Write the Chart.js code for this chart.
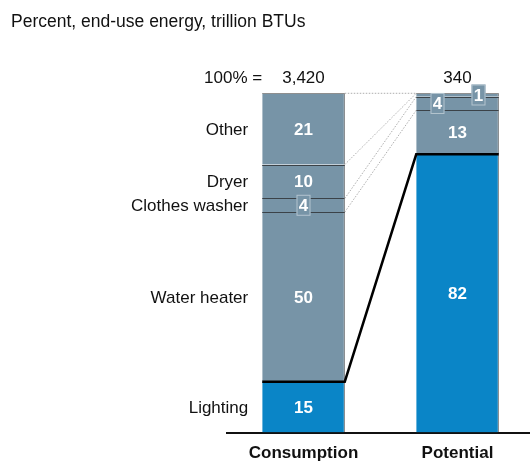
<!DOCTYPE html>
<html>
<head>
<meta charset="utf-8">
<script src="https://cdn.jsdelivr.net/npm/chart.js@4"></script>
<style>
    html, body { margin: 0; padding: 0; background: #fff; overflow: hidden; }
    #wrap { position: absolute; left: 0; top: 0; width: 536px; height: 478px; }
</style>
</head>
<body>
<div id="wrap"><canvas id="chart" width="536" height="478"></canvas></div>
<script>
const categories = ["Consumption", "Potential"];
const segments = ["Lighting", "Water heater", "Clothes washer", "Dryer", "Other"];
const lighting = [15, 82];
const waterHeater = [50, 13];
const clothesWasher = [4, 4];
const dryer = [10, 1];
const other = [21, 0];
const totals = ["3,420", "340"];

//set colors
let greyColor = "#7794a7";
let blueColor = "#0a85c7";
let lineColor = "#3b4248";
const font = "'Liberation Sans', Arial, Helvetica, sans-serif";

// small labels that get a box, shifted sideways (dataset index -> shift per bar, null = no box)
const boxShift = { 2: [0, -20], 3: [null, 21] };

function seg(label, values, color) {
    return {
        label: label,
        data: values,
        backgroundColor: color,
        borderColor: lineColor,
        borderWidth: { top: 0, right: 1, left: 0, bottom: 0 },
        borderSkipped: false
    };
}

const connectors = {
    id: "connectors",
    afterDatasetsDraw(chart) {
        const c = chart.ctx;
        const yScale = chart.scales.y;
        const metas = chart.data.datasets.map((d, i) => chart.getDatasetMeta(i));

        // crisp segment boundaries
        c.save();
        c.lineWidth = 1;
        metas.forEach((meta, i) => {
            if (i < 2) return;
            meta.data.forEach((el, j) => {
                if (!chart.data.datasets[i].data[j]) return;
                const y = Math.round(el.base) + 0.5;
                c.strokeStyle = lineColor;
                c.beginPath();
                c.moveTo(el.x - el.width / 2, y);
                c.lineTo(el.x + el.width / 2, y);
                c.stroke();
            });
        });
        // bar tops
        metas[0].data.forEach((el, j) => {
            const y = Math.round(yScale.getPixelForValue(100)) + 0.5;
            c.strokeStyle = "#8f8f8f";
            c.beginPath();
            c.moveTo(el.x - el.width / 2, y);
            c.lineTo(el.x + el.width / 2, y);
            c.stroke();
        });
        c.restore();

        // dotted lines between segment tops, heavy line for lighting
        metas.forEach((meta, i) => {
            const a = meta.data[0], b = meta.data[1];
            const ya = a.y, yb = b.y;
            c.save();
            if (i === 0) {
                c.strokeStyle = "#000";
                c.lineWidth = 2.5;
                c.beginPath();
                c.moveTo(a.x - a.width / 2, ya);
                c.lineTo(a.x + a.width / 2, ya);
                c.lineTo(b.x - b.width / 2, yb);
                c.lineTo(b.x + b.width / 2, yb);
                c.stroke();
            } else {
                c.strokeStyle = "#999";
                c.lineWidth = 0.8;
                c.setLineDash([1.5, 1.5]);
                c.beginPath();
                c.moveTo(a.x + a.width / 2, ya);
                c.lineTo(b.x - b.width / 2, yb);
                c.stroke();
            }
            c.restore();
        });

        // value labels
        c.save();
        c.textAlign = "center";
        c.textBaseline = "middle";
        c.font = "bold 17px " + font;
        metas.forEach((meta, i) => {
            const ds = chart.data.datasets[i];
            meta.data.forEach((el, j) => {
                const v = ds.data[j];
                if (!v) return;
                const midY = (el.y + el.base) / 2;
                let x = el.x;
                if (boxShift[i] && boxShift[i][j] !== null) {
                    x += boxShift[i][j];
                    c.fillStyle = greyColor;
                    c.fillRect(x - 7, midY - 10.5, 14, 21);
                    c.strokeStyle = "#b4c4cf";
                    c.lineWidth = 1;
                    c.strokeRect(x - 7 + 0.5, midY - 10.5 + 0.5, 13, 20);
                }
                c.fillStyle = "#fff";
                c.fillText(String(v), x, midY + 1);
            });
        });

        // side labels on consumption bar
        c.textAlign = "right";
        c.fillStyle = "#111";
        c.font = "17px " + font;
        metas.forEach((meta, i) => {
            const el = meta.data[0];
            c.fillText(segments[i], el.x - el.width / 2 - 14, (el.y + el.base) / 2 + 1);
        });

        // totals above bars
        const topY = yScale.getPixelForValue(100) - 10;
        c.textBaseline = "alphabetic";
        const first = metas[0].data[0];
        c.fillText("100% =", first.x - first.width / 2, topY);
        c.textAlign = "center";
        metas[0].data.forEach((el, j) => c.fillText(totals[j], el.x, topY));

        // unit line
        c.textAlign = "left";
        c.font = "17.5px " + font;
        c.fillText("Percent, end-use energy, trillion BTUs", 11, 27);
        c.restore();
    }
};

new Chart(document.getElementById("chart"), {
    type: "bar",
    data: {
        labels: categories,
        datasets: [
            seg(segments[0], lighting, blueColor),
            seg(segments[1], waterHeater, greyColor),
            seg(segments[2], clothesWasher, greyColor),
            seg(segments[3], dryer, greyColor),
            seg(segments[4], other, greyColor)
        ]
    },
    options: {
        responsive: false,
        animation: false,
        barPercentage: 0.536,
        categoryPercentage: 1,
        layout: { padding: { left: 226.5, right: 1.5, top: 93.3, bottom: 3 } },
        plugins: {
            legend: { display: false },
            tooltip: { enabled: false }
        },
        scales: {
            x: {
                stacked: true,
                grid: { display: false, drawTicks: false },
                border: { display: true, color: "#111", width: 2 },
                ticks: { color: "#111", padding: 11, font: { family: font, size: 17, weight: "bold" } }
            },
            y: {
                stacked: true,
                display: false,
                min: 0,
                max: 100
            }
        }
    },
    plugins: [connectors]
});
</script>
</body>
</html>
